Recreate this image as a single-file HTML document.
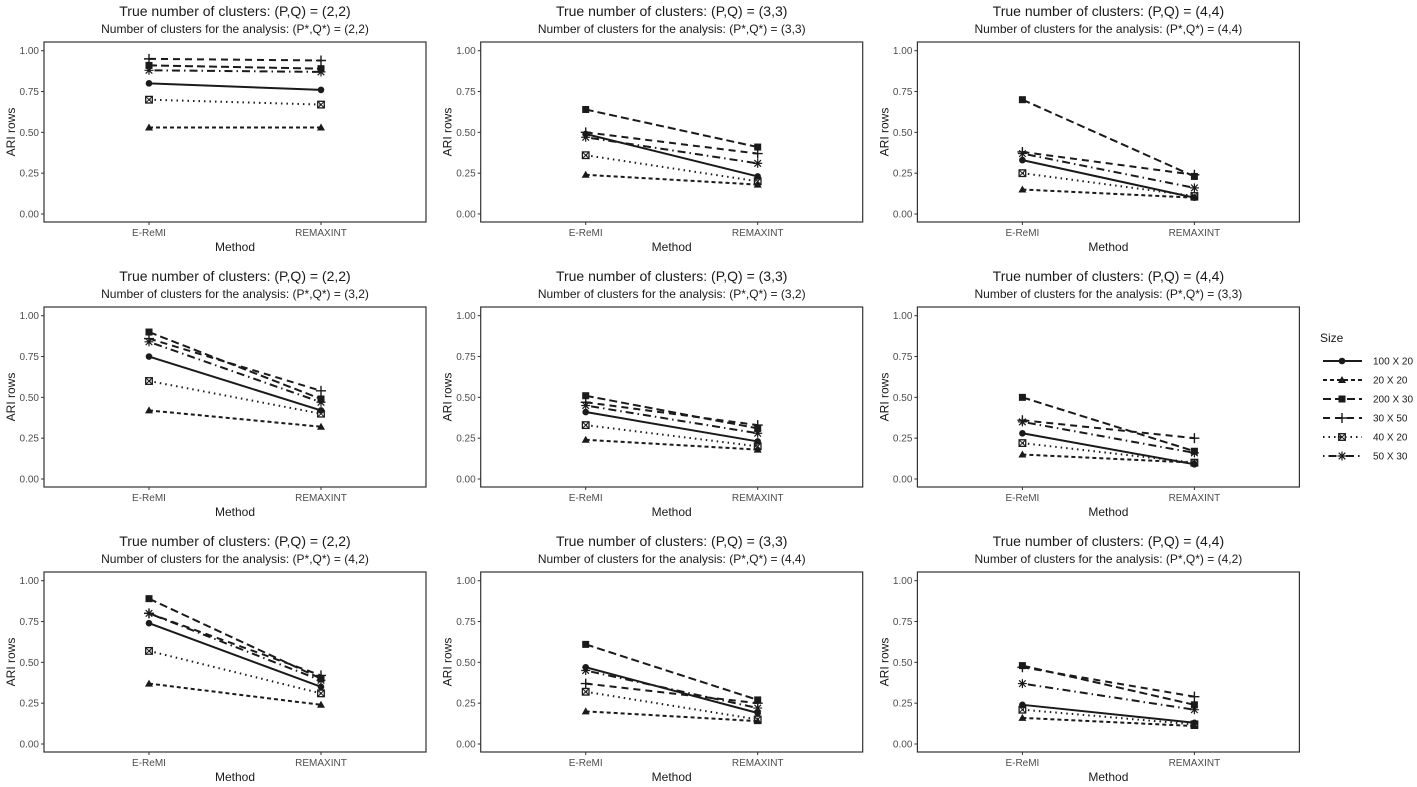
<!DOCTYPE html>
<html><head><meta charset="utf-8"><style>
body{margin:0;background:#fff;}
svg{display:block;font-family:"Liberation Sans",Arial,sans-serif;}
</style></head><body>
<svg id="chart" width="1417" height="787" viewBox="0 0 1417 787"></svg>
<script>
const methods = ["E-ReMI","REMAXINT"];
const seriesNames = ["100 X 20","20 X 20","200 X 30","30 X 50","40 X 20","50 X 30"];
const yTicks = [0,0.25,0.5,0.75,1.0];
const yTickLabels = ["0.00","0.25","0.50","0.75","1.00"];
const trueClusters = ["(2,2)","(3,3)","(4,4)","(2,2)","(3,3)","(4,4)","(2,2)","(3,3)","(4,4)"];
const analysisClusters = ["(2,2)","(3,3)","(4,4)","(3,2)","(3,2)","(3,3)","(4,2)","(4,4)","(4,2)"];
// per panel: rows = series (100x20,20x20,200x30,30x50,40x20,50x30), cols = methods
const panel1 = [[.80,.76],[.53,.53],[.91,.89],[.95,.94],[.70,.67],[.88,.87]];
const panel2 = [[.49,.23],[.24,.18],[.64,.41],[.50,.37],[.36,.20],[.47,.31]];
const panel3 = [[.33,.10],[.15,.10],[.70,.23],[.38,.24],[.25,.11],[.37,.16]];
const panel4 = [[.75,.42],[.42,.32],[.90,.49],[.86,.54],[.60,.40],[.84,.47]];
const panel5 = [[.41,.23],[.24,.18],[.51,.31],[.47,.33],[.33,.20],[.45,.28]];
const panel6 = [[.28,.09],[.15,.10],[.50,.17],[.36,.25],[.22,.10],[.35,.16]];
const panel7 = [[.74,.35],[.37,.24],[.89,.40],[.80,.42],[.57,.31],[.80,.39]];
const panel8 = [[.47,.19],[.20,.14],[.61,.27],[.37,.25],[.32,.15],[.45,.22]];
const panel9 = [[.24,.13],[.16,.11],[.48,.24],[.47,.29],[.21,.12],[.37,.21]];
const panels = [panel1,panel2,panel3,panel4,panel5,panel6,panel7,panel8,panel9];

const NS="http://www.w3.org/2000/svg";
const svg=document.getElementById('chart');
const dashes=["","4,3","8,4","7,5","1.5,4","1.5,4,8,4"];
function mk(tag,attrs,parent){const e=document.createElementNS(NS,tag);for(const k in attrs)e.setAttribute(k,attrs[k]);(parent||svg).appendChild(e);return e;}
function txt(x,y,s,size,fill,anchor,parent){const t=mk('text',{x:x,y:y,'font-size':size,fill:fill,'text-anchor':anchor||'middle'},parent);t.textContent=s;return t;}
function marker(g,k,x,y){
  if(k===0){mk('circle',{cx:x,cy:y,r:3.3,fill:'#1a1a1a'},g);}
  else if(k===1){mk('polygon',{points:`${x},${y-4} ${x-4},${y+3} ${x+4},${y+3}`,fill:'#1a1a1a'},g);}
  else if(k===2){mk('rect',{x:x-3.5,y:y-3.5,width:7,height:7,fill:'#1a1a1a'},g);}
  else if(k===3){mk('path',{d:`M${x-5},${y}H${x+5}M${x},${y-5}V${y+5}`,stroke:'#1a1a1a','stroke-width':1.4},g);}
  else if(k===4){mk('rect',{x:x-3.3,y:y-3.3,width:6.6,height:6.6,fill:'none',stroke:'#1a1a1a','stroke-width':1.3},g);mk('path',{d:`M${x-3},${y-3}L${x+3},${y+3}M${x+3},${y-3}L${x-3},${y+3}`,stroke:'#1a1a1a','stroke-width':1},g);}
  else {mk('path',{d:`M${x-4.5},${y}H${x+4.5}M${x},${y-4.5}V${y+4.5}M${x-3.3},${y-3.3}L${x+3.3},${y+3.3}M${x+3.3},${y-3.3}L${x-3.3},${y+3.3}`,stroke:'#1a1a1a','stroke-width':1.2},g);}
}
for(let p=0;p<9;p++){
  const col=p%3,row=Math.floor(p/3);
  const L=44+col*436.7,R=L+382,T=42+row*265,B=T+180;
  const y0=T+172,y1=T+8.7;
  const yS=v=>y0-(y0-y1)*v;
  const xS=i=>L+105+i*172;
  const g=mk('g',{},svg);
  
  
  const cx=(L+R)/2;
  const t1=txt(cx,T-26,'True number of clusters: (P,Q) = '+trueClusters[p],14,'#1a1a1a','middle',g);
  
  const t2=txt(cx,T-9,'Number of clusters for the analysis: (P*,Q*) = '+analysisClusters[p],12,'#1a1a1a','middle',g);
  
  yTicks.forEach((v,i)=>{const y=yS(v);mk('line',{x1:L-3,x2:L,y1:y,y2:y,stroke:'#333','stroke-width':1},g);
    const tl=txt(L-5,y+3.5,yTickLabels[i],10,'#4d4d4d','end',g);});
  methods.forEach((m,i)=>{const x=xS(i);mk('line',{x1:x,x2:x,y1:B,y2:B+3,stroke:'#333','stroke-width':1},g);
    const tl=txt(x,B+14,m,10,'#4d4d4d','middle',g);});
  const xt=txt(cx,B+29,'Method',12,'#1a1a1a','middle',g);
  const yt=txt(0,0,'ARI rows',12,'#1a1a1a','middle',g);yt.setAttribute('transform',`translate(${L-29},${(T+B)/2}) rotate(-90)`);
  
  panels[p].forEach((vals,k)=>{
    const ln=mk('line',{x1:xS(0),y1:yS(vals[0]),x2:xS(1),y2:yS(vals[1]),stroke:'#1a1a1a','stroke-width':2,'stroke-dasharray':dashes[k]},g);
    
    vals.forEach((v,i)=>marker(g,k,xS(i),yS(v)));
  });
  mk('rect',{x:L,y:T,width:R-L,height:B-T,fill:'none',stroke:'#333','stroke-width':1.2},g);
}
const lg=mk('g',{},svg);


txt(1320,342,'Size',12,'#1a1a1a','start',lg);
seriesNames.forEach((s,k)=>{const y=361+k*19;
  mk('line',{x1:1323,x2:1362,y1:y,y2:y,stroke:'#1a1a1a','stroke-width':2,'stroke-dasharray':dashes[k]},lg);
  marker(lg,k,1342,y);
  const t=txt(1373,y+3.5,s,10,'#1a1a1a','start',lg);});
</script>
</body></html>
